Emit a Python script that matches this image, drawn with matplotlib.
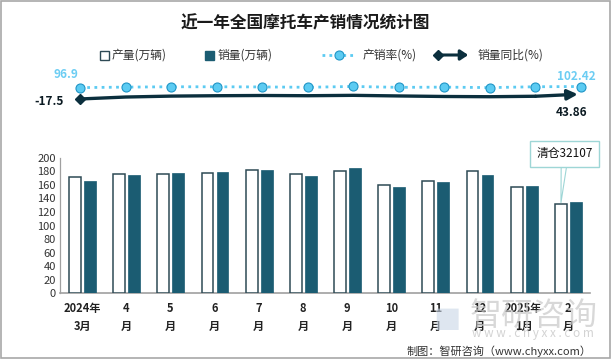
import matplotlib
matplotlib.use("Agg")
import matplotlib.pyplot as plt
import numpy as np
from matplotlib.patches import Rectangle, FancyArrowPatch
from matplotlib.lines import Line2D

plt.rcParams['font.family'] = ['Noto Sans CJK SC', 'DejaVu Sans']

# ---------------- data ----------------
months = ["2024年\n3月", "4\n月", "5\n月", "6\n月", "7\n月", "8\n月",
          "9\n月", "10\n月", "11\n月", "12\n月", "2025年\n1月", "2\n月"]
production = [171.0, 176.0, 176.0, 177.5, 182.0, 176.0, 180.4, 159.7, 165.6, 180.4, 156.8, 131.7]
sales = [165.6, 175.0, 178.0, 179.4, 182.5, 173.5, 185.3, 156.8, 164.6, 175.0, 158.7, 135.0]
ratio = [96.9, 99.4, 101.1, 101.1, 100.3, 98.6, 102.7, 98.2, 99.4, 97.0, 101.2, 102.42]
yoy = [-17.5, 8.0, 20.0, 25.0, 28.0, 25.0, 30.0, 22.0, 15.0, 12.0, 18.0, 43.86]
yticks = list(range(0, 201, 20))
note_text = "清仓32107"

W, H = 611, 359
fig = plt.figure(figsize=(W / 100, H / 100), dpi=100)

def fx(px):
    return px / W

def fy(py):
    return 1 - py / H

PROD_EC = "#2e4a55"
SALES_C = "#1b5c72"
RATE_C = "#5ccbf2"
RATE_EDGE = "#1f95c6"
YOY_C = "#0b2f3d"

# frame
fig.add_artist(Rectangle((0.0015, 0.002), 0.997, 0.996, transform=fig.transFigure,
                         fill=False, ec="#a8a8a8", lw=1.2))

# title
fig.text(fx(305), fy(23), "近一年全国摩托车产销情况统计图", ha="center", va="center",
         fontsize=12, fontweight="bold", color="#1a1a1a")

# legend (manual)
ly = fy(55)
fig.add_artist(Rectangle((fx(100), fy(59.5)), fx(9), 9 / H, transform=fig.transFigure,
                         fc="white", ec=PROD_EC, lw=1.0))
fig.text(fx(112), ly, "产量(万辆)", ha="left", va="center", fontsize=8.5, color="#333333")
fig.add_artist(Rectangle((fx(205), fy(59.5)), fx(9), 9 / H, transform=fig.transFigure,
                         fc=SALES_C, ec=SALES_C, lw=1.0))
fig.text(fx(218), ly, "销量(万辆)", ha="left", va="center", fontsize=8.5, color="#333333")
fig.add_artist(Line2D([fx(322), fx(355)], [ly, ly], transform=fig.transFigure,
                      color=RATE_C, lw=2, ls=(0, (1, 1.5))))
fig.add_artist(Line2D([fx(339)], [ly], transform=fig.transFigure, marker="o", ms=6.5,
                      mfc=RATE_C, mec=RATE_EDGE, mew=0.8, lw=0))
fig.text(fx(363), ly, "产销率(%)", ha="left", va="center", fontsize=8.5, color="#333333")
fig.add_artist(FancyArrowPatch((fx(437), ly), (fx(471), ly), transform=fig.transFigure,
                               arrowstyle="-|>,head_length=3,head_width=2", color=YOY_C, lw=2.2,
                               mutation_scale=1.5))
fig.add_artist(Line2D([fx(438)], [ly], transform=fig.transFigure, marker="D", ms=5,
                      color=YOY_C, lw=0))
fig.text(fx(478), ly, "销量同比(%)", ha="left", va="center", fontsize=8.5, color="#333333")

# ---------------- bar chart ----------------
ax = fig.add_axes([fx(60), fy(293.3), fx(530), (293.3 - 157.7) / H])
x = np.arange(len(months))
bw = 0.27
ax.bar(x - 0.16, production, bw, facecolor="white", edgecolor=PROD_EC, linewidth=1.1, zorder=3)
ax.bar(x + 0.18, sales, bw, facecolor=SALES_C, edgecolor=SALES_C, linewidth=0.5, zorder=3)
ax.set_xlim(-0.5, len(months) - 0.5)
ax.set_ylim(0, 200)
ax.set_yticks(yticks)
ax.set_yticklabels([str(v) for v in yticks], fontsize=8, color="#333333")
ax.set_xticks(x)
ax.set_xticklabels(months, fontsize=8, color="#222222", fontweight="bold", linespacing=1.55)
ax.tick_params(axis="both", length=0, pad=3)
ax.tick_params(axis="x", pad=6)
for s in ["top", "right"]:
    ax.spines[s].set_visible(False)
ax.spines["left"].set_color("#a0a0a0")
ax.spines["bottom"].set_color("#a0a0a0")
ax.spines["left"].set_linewidth(0.9)
ax.spines["bottom"].set_linewidth(1.2)
ax.patch.set_alpha(0)

# callout
ax.annotate(note_text, xy=(11 - 0.16, production[-1]), xytext=(10.92, 206),
            textcoords="data", ha="center", va="center", fontsize=8.5, color="#111111",
            annotation_clip=False,
            bbox=dict(boxstyle="square,pad=0.55", fc="white", ec="#9ed6d6", lw=1),
            arrowprops=dict(arrowstyle="wedge,tail_width=0.45,shrink_factor=0.5",
                            fc="white", ec="#9ed6d6", lw=0.8, relpos=(0.5, 0.0),
                            shrinkA=0, shrinkB=1))

# ---------------- top line chart ----------------
axr = fig.add_axes([fx(80), fy(105), fx(501), 25 / H])
axr.set_xlim(0, len(months) - 1)
axr.set_ylim(10, 135)
axr.axis("off")
axr.plot(x, ratio, color=RATE_C, lw=2, ls=(0, (1, 1.6)), zorder=3, clip_on=False)
axr.plot(x, ratio, lw=0, marker="o", ms=6.5, mfc=RATE_C, mec=RATE_EDGE, mew=0.8,
         zorder=4, clip_on=False)

axg = axr.twinx()
axg.set_ylim(-96, 230)
axg.axis("off")
axg.plot(x[:-1], yoy[:-1], color=YOY_C, lw=2.4, zorder=2, clip_on=False,
         solid_capstyle="round")
axg.annotate("", xy=(x[-1] - 0.07, yoy[-1]), xytext=(x[-2], yoy[-2]),
             arrowprops=dict(arrowstyle="-|>,head_length=0.6,head_width=0.3",
                             color=YOY_C, lw=2.4, shrinkA=0, shrinkB=0))
axg.plot([x[0]], [yoy[0]], marker="D", ms=5, color=YOY_C, lw=0, clip_on=False, zorder=3)

# data labels
fig.text(fx(66), fy(75), f"{ratio[0]:g}", ha="center", va="center", fontsize=8.5,
         color="#6ccdf3", fontweight="bold")
fig.text(fx(576), fy(76), f"{ratio[-1]:g}", ha="center", va="center", fontsize=8.5,
         color="#6ccdf3", fontweight="bold")
fig.text(fx(64), fy(101.5), f"{yoy[0]:g}", ha="right", va="center", fontsize=8.5,
         color="#0b1a22", fontweight="bold")
fig.text(fx(572), fy(113), f"{yoy[-1]:g}", ha="center", va="center", fontsize=8.5,
         color="#0b1a22", fontweight="bold")

# watermark (drawn behind labels)
fig.text(fx(436), fy(316), "▆", ha="left", va="center", fontsize=20, color="#c9d6e6", alpha=0.6,
         family=["DejaVu Sans"], zorder=0)
fig.text(fx(470), fy(316), "智研咨询", ha="left", va="center", fontsize=23, color="#c8c8c8",
         alpha=0.7, zorder=0)
fig.text(fx(472), fy(333), "w w w . c h y x x . c o m", ha="left", va="center", fontsize=8.5,
         color="#c8c8c8", alpha=0.8, zorder=0)

# footer
fig.text(fx(592), fy(351), "制图：智研咨询（www.chyxx.com）", ha="right", va="center",
         fontsize=8, color="#333333")

fig.savefig("out.png", dpi=100)
